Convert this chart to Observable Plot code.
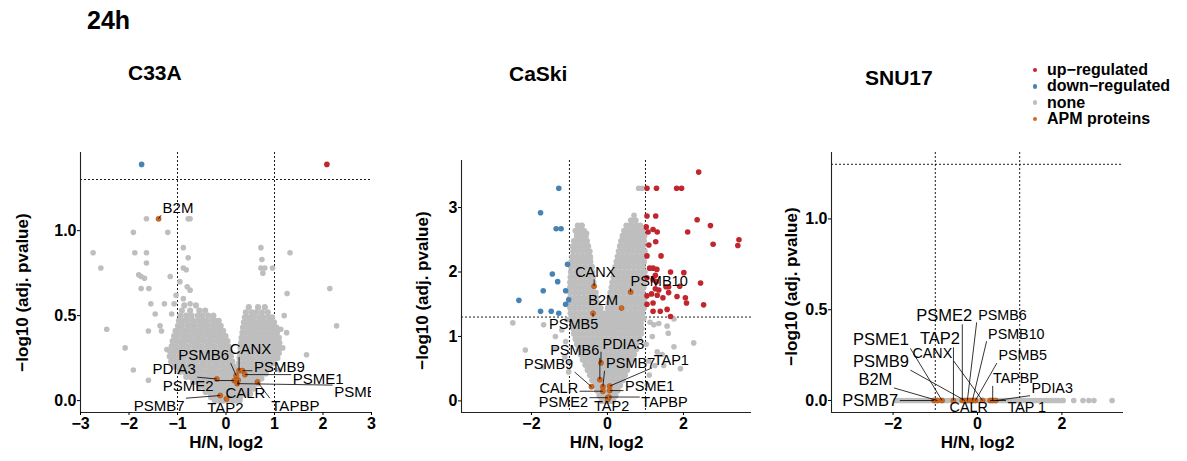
<!DOCTYPE html>
<html>
<head>
<meta charset="utf-8">
<script src="https://cdn.jsdelivr.net/npm/d3@7"></script>
<script src="https://cdn.jsdelivr.net/npm/@observablehq/plot@0.6"></script>
<style>
  body { margin: 0; background: #fff; font-family: "Liberation Sans", Arial, sans-serif; }
  #fig { position: relative; width: 1187px; height: 461px; overflow: hidden; background: #fff; }
  .t { position: absolute; font-weight: bold; line-height: 1; white-space: nowrap; color: #000; }
  .panel { position: absolute; top: 0; }
  .key { position: absolute; border-radius: 50%; width: 4.5px; height: 4.5px; }
</style>
</head>
<body>
<div id="fig"></div>
<script>
// ---------- C33A ----------
// dense "none" proteins, listed as rows: [-log10 adj. p, [log2 ratios]]
const c33aNoneRows = [
  [0.56, [-0.86, -0.62]],
  [0.53, [-0.91, -0.74, -0.55, -0.43]],
  [0.50, [-0.94, -0.82, -0.71, -0.58, -0.49, -0.37, -0.26]],
  [0.47, [-0.97, -0.87, -0.78, -0.67, -0.57, -0.48, -0.41, -0.30, -0.22, -0.15]],
  [0.44, [-0.99, -0.91, -0.80, -0.72, -0.64, -0.53, -0.45, -0.37, -0.26, -0.18, -0.11]],
  [0.41, [-1.04, -0.94, -0.86, -0.78, -0.67, -0.59, -0.51, -0.40, -0.32, -0.24, -0.13, -0.06]],
  [0.38, [-1.07, -0.99, -0.88, -0.80, -0.72, -0.61, -0.53, -0.45, -0.34, -0.26, -0.18, -0.08, -0.01]],
  [0.35, [-1.10, -1.00, -0.92, -0.84, -0.73, -0.65, -0.57, -0.46, -0.38, -0.30, -0.19, -0.11, -0.03, 0.03]],
  [0.32, [-1.12, -1.04, -0.93, -0.85, -0.77, -0.66, -0.58, -0.50, -0.39, -0.31, -0.23, -0.12, -0.04, 0.05]],
  [0.29, [-1.15, -1.05, -0.97, -0.89, -0.78, -0.70, -0.62, -0.51, -0.43, -0.35, -0.24, -0.16, -0.08, 0.02, 0.08]],
  [0.26, [-1.16, -1.08, -0.97, -0.89, -0.81, -0.70, -0.62, -0.54, -0.43, -0.35, -0.27, -0.16, -0.08, 0.01, 0.10]],
  [0.23, [-1.13, -1.03, -0.95, -0.87, -0.76, -0.68, -0.60, -0.49, -0.41, -0.33, -0.22, -0.14, -0.06, 0.05, 0.13]],
  [0.20, [-1.07, -0.99, -0.88, -0.80, -0.72, -0.61, -0.53, -0.45, -0.34, -0.26, -0.18, -0.07, 0.01, 0.09, 0.16]],
  [0.17, [-0.95, -0.86, -0.78, -0.67, -0.59, -0.51, -0.40, -0.32, -0.24, -0.13, -0.05, 0.04, 0.12, 0.18]],
  [0.14, [-0.82, -0.74, -0.63, -0.55, -0.47, -0.36, -0.28, -0.20, -0.09, -0.01, 0.08, 0.16, 0.21]],
  [0.11, [-0.68, -0.59, -0.51, -0.42, -0.32, -0.24, -0.13, -0.05, 0.04, 0.13, 0.20]],
  [0.08, [-0.55, -0.46, -0.38, -0.27, -0.19, -0.10, -0.01, 0.07, 0.16, 0.22]],
  [0.05, [-0.42, -0.34, -0.23, -0.15, -0.06, 0.03, 0.11, 0.19, 0.26]],
  [0.02, [-0.31, -0.22, -0.13, -0.04, 0.05, 0.13, 0.21, 0.29]],
  [0.00, [-0.23, -0.14, -0.05, 0.04, 0.12, 0.20, 0.28]],
  [0.55, [0.47, 0.66, 0.80]],
  [0.52, [0.41, 0.53, 0.62, 0.74, 0.86]],
  [0.49, [0.39, 0.48, 0.57, 0.68, 0.77, 0.88, 0.95]],
  [0.46, [0.37, 0.46, 0.55, 0.64, 0.73, 0.82, 0.91, 0.99]],
  [0.43, [0.35, 0.44, 0.53, 0.62, 0.71, 0.80, 0.89, 0.98, 1.04]],
  [0.40, [0.34, 0.43, 0.52, 0.61, 0.70, 0.79, 0.88, 0.97, 1.05]],
  [0.37, [0.32, 0.41, 0.50, 0.59, 0.68, 0.77, 0.86, 0.95, 1.04, 1.09]],
  [0.34, [0.31, 0.40, 0.49, 0.58, 0.67, 0.76, 0.85, 0.94, 1.03, 1.10]],
  [0.31, [0.30, 0.39, 0.48, 0.57, 0.66, 0.75, 0.84, 0.93, 1.02, 1.11]],
  [0.28, [0.29, 0.38, 0.47, 0.56, 0.65, 0.74, 0.83, 0.92, 1.01, 1.09]],
  [0.25, [0.28, 0.37, 0.46, 0.55, 0.64, 0.73, 0.82, 0.91, 1.00, 1.06]],
  [0.22, [0.27, 0.36, 0.45, 0.54, 0.63, 0.72, 0.81, 0.90, 0.98]],
  [0.19, [0.27, 0.36, 0.45, 0.54, 0.63, 0.72, 0.81, 0.90]],
  [0.16, [0.27, 0.36, 0.45, 0.54, 0.63, 0.72, 0.82]],
  [0.13, [0.28, 0.37, 0.46, 0.55, 0.64, 0.73]],
  [0.10, [0.29, 0.38, 0.47, 0.56, 0.65]],
  [0.07, [0.31, 0.40, 0.49, 0.57]],
  [0.04, [0.33, 0.42, 0.50]]
];
// scattered "none" proteins: [log2 ratio, -log10 adj. p]
const c33aNoneScatter = [
  [-2.74, 0.87], [-2.58, 0.78], [-2.46, 0.42], [-2.08, 0.31], [-1.91, 0.99], [-1.88, 0.87],
  [-1.91, 0.18], [-1.64, 1.07], [-1.64, 0.87], [-1.64, 0.81], [-1.80, 0.74], [-1.75, 0.73],
  [-1.68, 0.72], [-1.75, 0.66], [-1.59, 0.66], [-1.55, 0.57], [-1.46, 0.51], [-1.60, 0.41],
  [-1.36, 0.44], [-1.33, 0.41], [-1.60, 0.12], [-1.20, 0.99], [-1.27, 0.57], [-1.12, 0.51],
  [-1.07, 0.57], [-1.15, 0.73], [-1.03, 0.62], [-1.22, 0.30], [-0.95, 0.70], [-0.88, 0.90],
  [-0.78, 0.84], [-0.88, 0.78], [-0.82, 0.77], [-0.80, 0.67], [-0.74, 0.65], [-0.88, 0.60],
  [-0.74, 0.57], [-0.78, 1.07], [-0.74, 1.07],
  [0.72, 0.90], [0.74, 0.83], [0.72, 0.78], [0.80, 0.78], [0.76, 0.75], [0.96, 0.78],
  [1.32, 0.87], [1.26, 0.63], [2.14, 0.66], [2.28, 0.44], [1.13, 0.42], [1.25, 0.40],
  [1.17, 0.31], [1.66, 0.27], [1.10, 0.18], [1.20, 0.50]
];
const c33aUp = [[2.08, 1.39]];
const c33aDown = [[-1.74, 1.39]];
// APM proteins: [name, log2 ratio, -log10 adj. p]
const c33aApm = [
  ["B2M", -1.39, 1.07], ["CANX", 0.27, 0.176], ["PSMB6", 0.21, 0.147], ["PSMB9", 0.34, 0.176],
  ["PDIA3", -0.19, 0.127], ["PSME1", 0.39, 0.153], ["PSME2", 0.17, 0.118], ["PSMB10", 0.23, 0.10],
  ["CALR", 0.25, 0.12], ["TAPBP", 0.65, 0.11], ["PSMB7", -0.12, 0.03], ["TAP2", 0.01, 0.01]
];
// repelled label anchors (label centres, in data units)
const c33aLabelAt = [
  ["B2M", -0.99, 1.135], ["CANX", 0.505, 0.30], ["PSMB6", -0.46, 0.265], ["PSMB9", 1.10, 0.194],
  ["PDIA3", -1.07, 0.182], ["PSME1", 1.90, 0.124], ["PSME2", -0.78, 0.082], ["PSMB10", 2.84, 0.047],
  ["CALR", 0.40, 0.045], ["TAPBP", 1.43, -0.03], ["PSMB7", -1.38, -0.03], ["TAP2", -0.01, -0.045]
];

// ---------- CaSki ----------
const caskiNoneRows = [
  [2.72, [-0.78, -0.68]],
  [2.64, [-0.84, -0.72, -0.62]],
  [2.56, [-0.80, -0.68, -0.57]],
  [2.48, [-0.88, -0.76, -0.64, -0.54]],
  [2.40, [-0.85, -0.73, -0.61, -0.51]],
  [2.32, [-0.90, -0.78, -0.66, -0.54, -0.47]],
  [2.24, [-0.92, -0.80, -0.68, -0.56, -0.46]],
  [2.16, [-0.94, -0.82, -0.70, -0.58, -0.45]],
  [2.08, [-0.95, -0.83, -0.71, -0.59, -0.47, -0.41]],
  [2.00, [-0.96, -0.84, -0.72, -0.60, -0.48, -0.40]],
  [1.92, [-0.97, -0.85, -0.73, -0.61, -0.49, -0.38]],
  [1.84, [-0.98, -0.86, -0.74, -0.62, -0.50, -0.37]],
  [1.76, [-0.98, -0.86, -0.74, -0.62, -0.50, -0.40]],
  [1.68, [-0.98, -0.86, -0.74, -0.62, -0.50, -0.38, -0.31]],
  [1.60, [-0.98, -0.86, -0.74, -0.62, -0.50, -0.39, -0.29]],
  [1.52, [-0.97, -0.85, -0.73, -0.61, -0.49, -0.38, -0.26]],
  [1.44, [-0.98, -0.86, -0.74, -0.62, -0.50, -0.38, -0.26, -0.18]],
  [1.36, [-0.97, -0.85, -0.73, -0.61, -0.49, -0.38, -0.26, -0.14, -0.04]],
  [2.80, [0.62, 0.74]],
  [2.72, [0.50, 0.62, 0.74, 0.86]],
  [2.64, [0.44, 0.56, 0.68, 0.80, 0.92]],
  [2.56, [0.40, 0.52, 0.64, 0.76, 0.88, 0.97]],
  [2.48, [0.36, 0.48, 0.60, 0.72, 0.84, 0.96]],
  [2.40, [0.33, 0.45, 0.57, 0.69, 0.81, 0.93]],
  [2.32, [0.30, 0.42, 0.54, 0.66, 0.78, 0.90, 0.98]],
  [2.24, [0.27, 0.39, 0.51, 0.63, 0.75, 0.87, 0.97]],
  [2.16, [0.24, 0.36, 0.48, 0.60, 0.72, 0.84, 0.96]],
  [2.08, [0.21, 0.33, 0.45, 0.57, 0.69, 0.81, 0.93]],
  [2.00, [0.19, 0.31, 0.43, 0.55, 0.67, 0.79, 0.91, 0.98]],
  [1.92, [0.16, 0.28, 0.40, 0.52, 0.64, 0.76, 0.88, 0.97]],
  [1.84, [0.13, 0.25, 0.37, 0.49, 0.61, 0.73, 0.85, 0.96]],
  [1.76, [0.11, 0.23, 0.35, 0.47, 0.59, 0.71, 0.83, 0.95]],
  [1.68, [0.08, 0.20, 0.32, 0.44, 0.56, 0.68, 0.80, 0.92]],
  [1.60, [0.06, 0.18, 0.30, 0.42, 0.54, 0.66, 0.78, 0.90, 0.98]],
  [1.52, [0.03, 0.15, 0.27, 0.39, 0.51, 0.63, 0.75, 0.87, 0.97]],
  [1.44, [0.01, 0.13, 0.25, 0.37, 0.49, 0.61, 0.73, 0.85, 0.96]],
  [1.36, [0.08, 0.20, 0.32, 0.44, 0.56, 0.68, 0.80, 0.92]],
  [1.28, [-0.95, -0.83, -0.71, -0.59, -0.47, -0.35, -0.23, -0.11, 0.01, 0.13, 0.25, 0.37, 0.49, 0.61, 0.73, 0.85, 0.95]],
  [1.20, [-0.92, -0.80, -0.68, -0.56, -0.44, -0.32, -0.20, -0.08, 0.04, 0.16, 0.28, 0.40, 0.52, 0.64, 0.76, 0.88]],
  [1.12, [-0.90, -0.78, -0.66, -0.54, -0.42, -0.30, -0.18, -0.06, 0.06, 0.18, 0.30, 0.42, 0.54, 0.66, 0.78, 0.90]],
  [1.04, [-0.88, -0.76, -0.64, -0.52, -0.40, -0.28, -0.16, -0.04, 0.08, 0.20, 0.32, 0.44, 0.56, 0.68, 0.80, 0.88]],
  [0.96, [-0.84, -0.72, -0.60, -0.48, -0.36, -0.24, -0.12, 0.00, 0.12, 0.24, 0.36, 0.48, 0.60, 0.72, 0.84]],
  [0.88, [-0.80, -0.68, -0.56, -0.44, -0.32, -0.20, -0.08, 0.04, 0.16, 0.28, 0.40, 0.52, 0.64, 0.76]],
  [0.80, [-0.76, -0.64, -0.52, -0.40, -0.28, -0.16, -0.04, 0.08, 0.20, 0.32, 0.44, 0.56, 0.68, 0.76]],
  [0.72, [-0.70, -0.58, -0.46, -0.34, -0.22, -0.10, 0.02, 0.14, 0.26, 0.38, 0.50, 0.62, 0.70]],
  [0.64, [-0.65, -0.53, -0.41, -0.29, -0.17, -0.05, 0.07, 0.19, 0.31, 0.43, 0.55, 0.64]],
  [0.56, [-0.58, -0.46, -0.34, -0.22, -0.10, 0.02, 0.14, 0.26, 0.38, 0.50, 0.58]],
  [0.48, [-0.52, -0.40, -0.28, -0.16, -0.04, 0.08, 0.20, 0.32, 0.44, 0.52]],
  [0.40, [-0.46, -0.34, -0.22, -0.10, 0.02, 0.14, 0.26, 0.38, 0.46]],
  [0.32, [-0.40, -0.28, -0.16, -0.04, 0.08, 0.20, 0.32, 0.40]],
  [0.24, [-0.33, -0.21, -0.09, 0.03, 0.15, 0.27, 0.33]],
  [0.16, [-0.27, -0.15, -0.03, 0.09, 0.21, 0.27]],
  [0.08, [-0.21, -0.09, 0.03, 0.15, 0.21]],
  [0.00, [-0.15, -0.04, 0.06, 0.15]]
];
const caskiNoneScatter = [
  [-2.49, 1.21], [-2.16, 0.79], [-1.68, 1.18], [-1.37, 1.00], [-1.68, 0.53], [-1.37, 0.82],
  [-1.06, 1.26], [-1.20, 1.10], [-1.12, 0.68], [-1.02, 0.45], [-1.10, 0.92], [-0.98, 0.60],
  [-0.67, 2.72], [-0.81, 2.56], [-0.45, 2.22], [-0.55, 2.60], [-0.92, 2.40], [-0.98, 2.10],
  [0.82, 3.30], [0.91, 3.30], [0.70, 2.88],
  [1.22, 1.18], [1.57, 1.16], [1.75, 0.84], [2.27, 0.90], [1.92, 0.50], [1.44, 0.72],
  [1.48, 0.55], [1.75, 1.27], [1.18, 1.00], [1.31, 0.76], [1.10, 0.40], [1.25, 0.55],
  [1.05, 0.25], [1.60, 1.05], [1.35, 1.20], [1.12, 1.22], [1.02, 0.88], [1.08, 0.62]
];
const caskiUp = [
  [2.40, 3.55], [1.04, 3.30], [1.29, 3.30], [1.82, 3.30], [1.95, 3.30],
  [1.04, 2.87], [1.27, 2.87], [2.36, 2.81], [1.02, 2.70], [1.20, 2.66], [2.71, 2.72],
  [1.07, 2.62], [1.31, 2.62], [2.11, 2.62], [1.27, 2.47], [1.09, 2.42], [2.78, 2.43],
  [3.46, 2.50], [3.43, 2.41], [1.04, 2.25], [1.41, 2.25], [1.11, 2.06], [1.20, 2.06],
  [1.30, 2.04], [1.66, 2.00], [2.01, 1.99], [1.26, 1.95], [1.04, 1.91], [1.29, 1.85],
  [1.20, 1.88], [2.45, 1.83], [1.61, 1.77], [1.54, 1.77], [1.26, 1.74], [1.35, 1.72],
  [1.04, 1.63], [1.16, 1.66], [1.31, 1.64], [1.46, 1.60], [1.61, 1.68], [1.83, 1.62],
  [1.90, 1.78], [2.05, 1.60], [2.53, 1.49], [1.04, 1.50], [1.20, 1.52], [1.39, 1.39],
  [1.57, 1.42], [1.20, 1.39], [1.66, 1.31], [2.08, 1.52]
];
const caskiDown = [
  [-1.28, 3.30], [-1.76, 2.92], [-1.35, 2.67], [-1.22, 2.67], [-1.05, 2.12], [-1.45, 1.97],
  [-1.31, 1.85], [-1.69, 1.71], [-1.10, 1.71], [-1.02, 1.57], [-2.33, 1.56], [-1.10, 1.50],
  [-1.76, 1.39], [-1.48, 1.39], [-1.28, 1.36]
];
const caskiApm = [
  ["CANX", -0.35, 1.78], ["PSMB10", 0.61, 1.69], ["B2M", 0.37, 1.44], ["PSMB5", -0.38, 1.36],
  ["PDIA3", -0.17, 0.59], ["PSMB6", -0.20, 0.33], ["PSMB9", -0.42, 0.22], ["PSMB7", -0.12, 0.22],
  ["TAP1", 0.06, 0.23], ["CALR", -0.12, 0.15], ["PSME1", 0.06, 0.16], ["PSME2", 0.01, 0.05],
  ["TAP2", 0.01, 0.02], ["TAPBP", 0.04, 0.06]
];
const caskiLabelAt = [
  ["CANX", -0.32, 2.0], ["PSMB10", 1.36, 1.86], ["B2M", -0.11, 1.56], ["PSMB5", -0.89, 1.19],
  ["PDIA3", 0.42, 0.875], ["PSMB6", -0.86, 0.78], ["PSMB9", -1.55, 0.56], ["PSMB7", 0.61, 0.58],
  ["TAP1", 1.68, 0.625], ["CALR", -1.28, 0.20], ["PSME1", 1.11, 0.22], ["PSME2", -1.16, -0.02],
  ["TAP2", 0.11, -0.09], ["TAPBP", 1.50, -0.02]
];

// ---------- SNU17 ----------
const snu17NoneX = [
  -1.94, -1.88, -1.81, -1.75, -1.68, -1.61, -1.55, -1.48, -1.42, -1.35, -1.29, -1.22, -1.15,
  -1.09, -1.02, -0.96, -0.89, -0.83, -0.76, -0.70, -0.63, -0.57, -0.50, -0.44, -0.37, -0.31,
  -0.24, -0.18, -0.11, -0.05, 0.02, 0.08, 0.15, 0.21, 0.28, 0.34, 0.41, 0.47, 0.54, 0.60,
  0.67, 0.73, 0.80, 0.86, 0.93, 0.99, 1.06, 1.12, 1.19, 1.25, 1.32, 1.38, 1.45, 1.51, 1.58,
  1.64, 1.71, 1.77, 1.84, 1.90, 1.97, 2.03, 2.28, 2.50, 2.64, 2.76, 3.19
];
const snu17NoneY = 0;
const snu17Apm = [
  ["PSMB7", -1.03, 0], ["B2M", -0.95, 0], ["PSME1", -0.84, 0], ["TAP2", -0.57, 0],
  ["PSME2", -0.36, 0], ["PSMB9", -0.30, 0], ["PSMB6", -0.24, 0], ["CALR", -0.18, 0],
  ["PSMB10", -0.12, 0], ["PSMB5", -0.05, 0], ["CANX", 0.12, 0], ["TAP 1", 0.30, 0],
  ["TAPBP", 0.36, 0], ["PDIA3", 0.43, 0]
];
const snu17LabelAt = [
  ["PSME2", -0.79, 0.465], ["PSMB6", 0.59, 0.47], ["PSMB10", 0.92, 0.366], ["PSMB5", 1.07, 0.246],
  ["TAPBP", 0.91, 0.12], ["PDIA3", 1.77, 0.066], ["TAP 1", 1.17, -0.038], ["CALR", -0.21, -0.038],
  ["CANX", -1.07, 0.257], ["TAP2", -0.89, 0.339], ["PSME1", -2.29, 0.333], ["PSMB9", -2.29, 0.213],
  ["B2M", -2.42, 0.115], ["PSMB7", -2.54, 0.0]
];

// ---------- shared ----------
const legendItems = ["up\u2212regulated", "down\u2212regulated", "none", "APM proteins"];
const colors = { up: "#C0262D", down: "#4682B4", none: "#BEBEBE", apm: "#D2691E" };
const fcCut = [-1, 1];
const padjCut = -Math.log10(0.05);

const fig = document.getElementById("fig");
const HEIGHT = 461;

const rowsToPoints = rows => rows.flatMap(([y, xs]) => xs.map(x => ({x, y})));
const pairsToPoints = arr => arr.map(([x, y]) => ({x, y}));

const ctx = document.createElement("canvas").getContext("2d");
function textWidth(s, size) {
  ctx.font = `${size}px "Liberation Sans", Arial, sans-serif`;
  return ctx.measureText(s).width;
}

function volcano(cfg) {
  const {left, width, mt, ml, mr, mb, xDomain, yDomain, xTicks, yTicks, yFormat,
         core, scatter, up, down, apm, labelAt, labelSize, yLabelDx, yLabelDy} = cfg;
  const sx = d3.scaleLinear(xDomain, [ml, width - mr]);
  const sy = d3.scaleLinear(yDomain, [HEIGHT - mb, mt]);
  const pts = apm.map(([name, x, y]) => ({name, x, y}));
  const byName = new Map(pts.map(d => [d.name, d]));
  // leader segments run from each point to the nearest edge of its label box
  const labels = labelAt.map(([name, lx, ly]) => {
    const p = byName.get(name);
    const size = labelSize(name);
    const w = textWidth(name, size);
    const cx = sx(lx), cy = sy(ly), px = sx(p.x), py = sy(p.y);
    const hx = w / 2 + 1.5, hy = size * 0.5;
    const qx = Math.max(cx - hx, Math.min(cx + hx, px));
    const qy = Math.max(cy - hy, Math.min(cy + hy, py));
    return {name, lx, ly, size, x1: p.x, y1: p.y, x2: sx.invert(qx), y2: sy.invert(qy),
            len: Math.hypot(qx - px, qy - py)};
  });
  const sizes = [...new Set(labels.map(d => d.size))];
  const intFmt = d3.format("d");

  const plot = Plot.plot({
    width, height: HEIGHT,
    marginTop: mt, marginLeft: ml, marginRight: mr, marginBottom: mb,
    x: {domain: xDomain},
    y: {domain: yDomain},
    style: {fontFamily: '"Liberation Sans", Arial, sans-serif', color: "#000", background: "transparent", overflow: "visible"},
    marks: [
      Plot.ruleX(fcCut, {stroke: "#000", strokeWidth: 0.9, strokeDasharray: "2,2"}),
      Plot.ruleY([padjCut], {stroke: "#000", strokeWidth: 0.9, strokeDasharray: "2,2"}),
      Plot.dot(core, {x: "x", y: "y", r: 3.1, fill: colors.none}),
      Plot.dot(scatter, {x: "x", y: "y", r: 2.8, fill: colors.none}),
      Plot.dot(up, {x: "x", y: "y", r: 2.8, fill: colors.up}),
      Plot.dot(down, {x: "x", y: "y", r: 2.8, fill: colors.down}),
      Plot.dot(pts, {x: "x", y: "y", r: 2.6, fill: colors.apm, stroke: "#9A4A12", strokeWidth: 0.5}),
      Plot.link(labels.filter(d => d.len > 2.5), {x1: "x1", y1: "y1", x2: "x2", y2: "y2", stroke: "#000", strokeWidth: 0.8, clip: true}),
      ...sizes.map(s => Plot.text(labels.filter(d => d.size === s), {x: "lx", y: "ly", text: "name", fontSize: s, fill: "#000", clip: true})),
      Plot.ruleX([xDomain[0]], {stroke: "#222", strokeWidth: 1.1}),
      Plot.ruleY([yDomain[0]], {stroke: "#222", strokeWidth: 1.1}),
      Plot.axisX({ticks: xTicks, tickFormat: intFmt, tickSize: 3, tickPadding: 2, fontSize: 16, fontWeight: "bold", label: null}),
      Plot.axisY({ticks: yTicks, tickFormat: yFormat, tickSize: 3, tickPadding: 1, fontSize: 16, fontWeight: "bold", label: null}),
      Plot.text(["H/N, log2"], {frameAnchor: "bottom", text: d => d, lineAnchor: "middle", textAnchor: "middle", dy: 30, fontSize: 17, fontWeight: "bold"}),
      Plot.text(["\u2212log10 (adj. pvalue)"], {frameAnchor: "left", text: d => d, rotate: -90, lineAnchor: "middle", textAnchor: "middle", dx: yLabelDx, dy: yLabelDy, fontSize: 17, fontWeight: "bold"})
    ]
  });
  plot.classList.add("panel");
  plot.style.left = left + "px";
  fig.appendChild(plot);
}

volcano({
  left: 0, width: 390, mt: 152, ml: 80, mr: 19, mb: 49,
  xDomain: [-3, 3], yDomain: [-0.07, 1.46],
  xTicks: [-3, -2, -1, 0, 1, 2, 3], yTicks: [0, 0.5, 1], yFormat: d3.format(".1f"),
  core: rowsToPoints(c33aNoneRows), scatter: pairsToPoints(c33aNoneScatter),
  up: pairsToPoints(c33aUp), down: pairsToPoints(c33aDown),
  apm: c33aApm, labelAt: c33aLabelAt, labelSize: () => 15,
  yLabelDx: -58, yLabelDy: 10
});

volcano({
  left: 400, width: 380, mt: 160, ml: 61, mr: 29, mb: 49,
  xDomain: [-3.84, 3.79], yDomain: [-0.18, 3.73],
  xTicks: [-2, 0, 2], yTicks: [0, 1, 2, 3], yFormat: d3.format("d"),
  core: rowsToPoints(caskiNoneRows), scatter: pairsToPoints(caskiNoneScatter),
  up: pairsToPoints(caskiUp), down: pairsToPoints(caskiDown),
  apm: caskiApm, labelAt: caskiLabelAt, labelSize: () => 14.5,
  yLabelDx: -39, yLabelDy: 4
});

const snu17Large = new Set(["PSME2", "PSME1", "PSMB9", "B2M", "PSMB7", "TAP2"]);
volcano({
  left: 780, width: 407, mt: 152, ml: 51, mr: 64, mb: 49,
  xDomain: [-3.46, 3.46], yDomain: [-0.066, 1.366],
  xTicks: [-2, 0, 2], yTicks: [0, 0.5, 1], yFormat: d3.format(".1f"),
  core: [], scatter: snu17NoneX.map(x => ({x, y: snu17NoneY})),
  up: [], down: [],
  apm: snu17Apm, labelAt: snu17LabelAt, labelSize: n => snu17Large.has(n) ? 16.5 : 14.3,
  yLabelDx: -40, yLabelDy: 4
});

// titles
function addText(txt, left, baseline, size) {
  const el = document.createElement("div");
  el.className = "t";
  el.textContent = txt;
  el.style.fontSize = size + "px";
  el.style.left = left + "px";
  el.style.top = (baseline - 0.8465 * size) + "px";
  fig.appendChild(el);
  return el;
}
addText("24h", 87, 29, 25);
addText("C33A", 128, 79.5, 21);
addText("CaSki", 509, 80.5, 21);
addText("SNU17", 865, 84.5, 21);

// legend
const keyColors = [colors.up, colors.down, colors.none, colors.apm];
legendItems.forEach((label, i) => {
  const cy = 70 + i * 16.3;
  const dot = document.createElement("div");
  dot.className = "key";
  dot.style.background = keyColors[i];
  dot.style.left = (1035 - 2.25) + "px";
  dot.style.top = (cy - 2.25) + "px";
  fig.appendChild(dot);
  addText(label, 1047, cy + 5.5, 16);
});
</script>
</body>
</html>
